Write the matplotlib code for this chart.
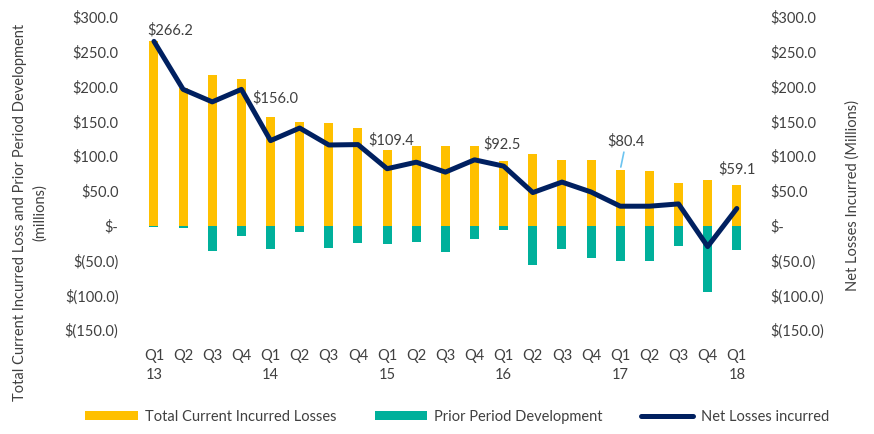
import matplotlib.pyplot as plt
import numpy as np

plt.rcParams['font.family'] = ['Lato', 'DejaVu Sans']

# quarters Q1 2013 .. Q1 2018
quarters = ["Q1\n13", "Q2", "Q3", "Q4", "Q1\n14", "Q2", "Q3", "Q4", "Q1\n15", "Q2", "Q3", "Q4",
            "Q1\n16", "Q2", "Q3", "Q4", "Q1\n17", "Q2", "Q3", "Q4", "Q1\n18"]

total_current = [266.2, 198.4, 216.6, 210.9, 156.0, 149.4, 147.0, 140.9, 109.4, 114.2, 114.0, 115.0,
                 92.5, 103.7, 95.0, 95.0, 80.4, 78.0, 60.9, 65.1, 59.1]
prior_dev = [-1.4, -3.0, -37.0, -14.7, -33.0, -8.6, -32.0, -24.4, -26.7, -23.3, -37.7, -19.0,
             -6.7, -56.3, -34.0, -47.1, -51.4, -50.5, -29.6, -95.0, -34.3]
net_losses = [265.0, 196.0, 178.0, 196.0, 122.3, 140.4, 116.0, 116.6, 81.9, 91.3, 77.0, 94.7,
              85.6, 47.6, 62.7, 48.4, 28.0, 28.0, 31.3, -30.0, 24.7]

# labelled Q1 totals: index -> offset in pixels (dx, dy)
label_idx = [0, 4, 8, 12, 16, 20]
label_off = [(16, 10), (5, 19), (4, 9), (-2, 17), (6, 29), (0, 15)]

yellow = "#FFC000"
teal = "#00B09B"
navy = "#002060"
txt = "#404040"

fig = plt.figure(figsize=(8.74, 4.34), dpi=100)
ax = fig.add_axes([0.1595, 0.2396, 0.7002, 0.7212])
x = np.arange(len(quarters))

b1 = ax.bar(x, total_current, width=0.31, color=yellow, label="Total Current Incurred Losses", zorder=2)
b2 = ax.bar(x, prior_dev, width=0.31, color=teal, label="Prior Period Development", zorder=2)
ln, = ax.plot(x, net_losses, color=navy, lw=3.6, solid_joinstyle='round', solid_capstyle='round',
              label="Net Losses incurred", zorder=3)

for i, (dx, dy) in zip(label_idx, label_off):
    if i == 16:
        ax.annotate(f"${total_current[i]:.1f}", xy=(x[i], total_current[i]), xytext=(dx, dy),
                    textcoords='offset pixels', ha='center', va='center', fontsize=10.5, color=txt,
                    arrowprops=dict(arrowstyle='-', color='#6CC4F0', lw=1.2, shrinkA=1, shrinkB=2))
    else:
        ax.annotate(f"${total_current[i]:.1f}", xy=(x[i], total_current[i]), xytext=(dx, dy),
                    textcoords='offset pixels', ha='center', va='center', fontsize=10.5, color=txt)

def money(v, pos=None):
    if v == 0:
        return "$-"
    if v < 0:
        return f"$({abs(v):.1f})"
    return f"${v:.1f}"

ticks = np.arange(-150, 301, 50)
ax.set_xlim(-0.5, len(quarters) - 0.5)
ax.set_ylim(-150, 300)
ax.set_yticks(ticks)
ax.set_yticklabels([money(t) for t in ticks])
ax.set_xticks(x)
ax.set_xticklabels(quarters, linespacing=1.45)
ax.tick_params(axis='both', length=0, labelsize=10.5, colors=txt)
ax.tick_params(axis='y', pad=15)
ax.tick_params(axis='x', pad=14)
for s in ax.spines.values():
    s.set_visible(False)

ax2 = ax.twinx()
ax2.set_ylim(-150, 300)
ax2.set_yticks(ticks)
ax2.set_yticklabels([money(t) for t in ticks])
ax2.tick_params(axis='y', length=0, labelsize=10.5, colors=txt, pad=14)
for s in ax2.spines.values():
    s.set_visible(False)

fig.text(0.034, 0.51, "Total Current Incurred Loss and Prior Period Development\n(millions)",
         rotation=90, ha='center', va='center', fontsize=10.5, color=txt, linespacing=1.5)
fig.text(0.975, 0.55, "Net Losses Incurred (Millions)", rotation=90, ha='center', va='center',
         fontsize=10.5, color=txt)

fig.legend([b1, b2, ln], [b1.get_label(), b2.get_label(), ln.get_label()], loc='center',
           bbox_to_anchor=(0.523, 0.04), ncol=3, frameon=False, fontsize=10.5,
           handlelength=3.6, handleheight=0.6, handletextpad=0.5, columnspacing=2.6, labelcolor=txt)

fig.savefig("out.png", dpi=100)
